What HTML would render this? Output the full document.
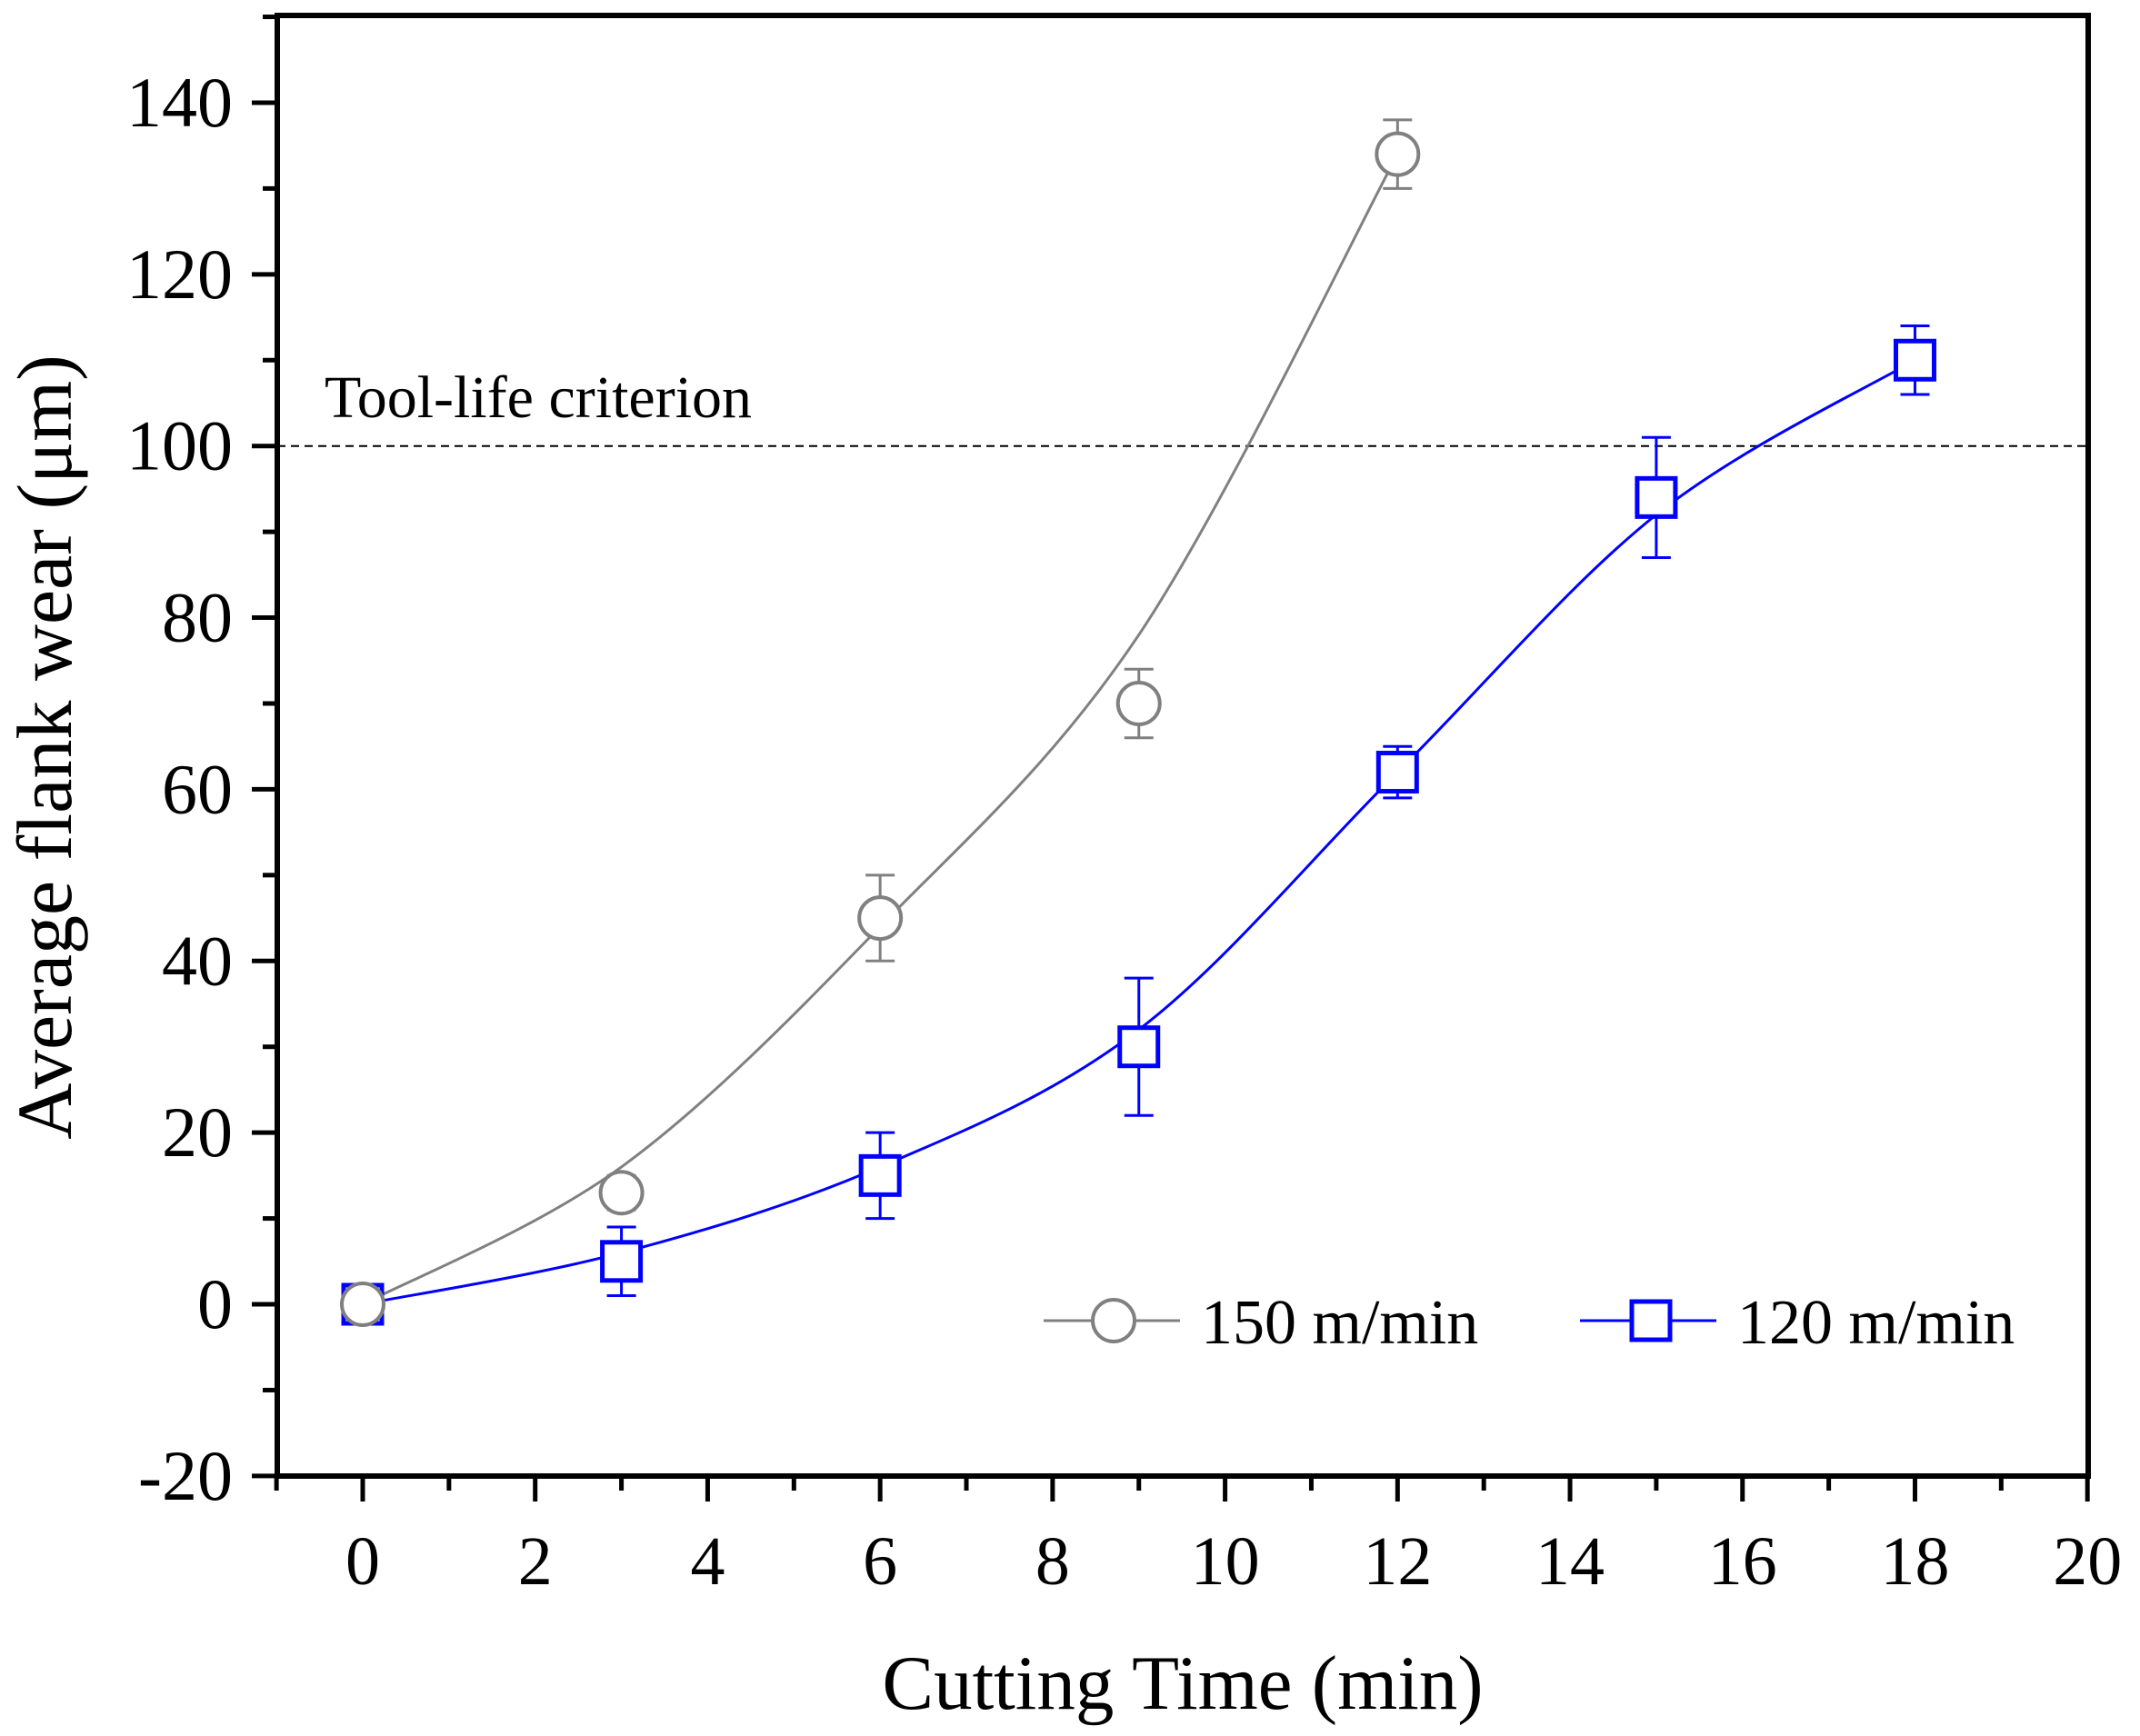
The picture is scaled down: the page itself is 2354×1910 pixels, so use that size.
<!DOCTYPE html>
<html><head><meta charset="utf-8"><style>
html,body{margin:0;padding:0;background:#fff;}
svg{display:block;font-family:"Liberation Serif",serif;}
</style></head><body>
<svg id="chart" width="2354" height="1910" viewBox="0 0 2354 1910" xmlns="http://www.w3.org/2000/svg">
<rect width="2354" height="1910" fill="#fff"/>
<g id="marks"></g>
<g id="axes"></g>
</svg>
<script>
const xTicks = [0,2,4,6,8,10,12,14,16,18,20];
const yTicks = [-20,0,20,40,60,80,100,120,140];
const t150 = [0,3,6,9,12];
const v150 = [0,13,45,70,134];
const e150 = [0,2,5,4,4];
const t120 = [0,3,6,9,12,15,18];
const v120 = [0,5,15,30,62,94,110];
const e120 = [0,4,5,8,3,7,4];
const fitX150 = [0,3,6,9,12];
const fitY150 = [0,16,44,78,134];
const fitX120 = [0,3,6,9,12,15,18];
const fitY120 = [0,6,16,32,62,92,110];
const criterion = 100;

const L=305,R=2297,T=17,B=1624;
const X=v=>399+94.86*v;
const Y=v=>1435-9.443*v;
const NS="http://www.w3.org/2000/svg";
const marks=document.getElementById('marks'), axes=document.getElementById('axes');
function mk(tag,attrs,parent){const e=document.createElementNS(NS,tag);for(const k in attrs)e.setAttribute(k,attrs[k]);parent.appendChild(e);return e;}

let cl=mk('line',{x1:L,x2:R,y1:Y(criterion),y2:Y(criterion),stroke:'#000','stroke-width':2,'stroke-dasharray':'9,6'},marks);


let ct=mk('text',{x:357,y:459,'font-size':66},marks);ct.textContent='Tool-life criterion';



function curve(xs,ys){
  const p=xs.map((x,i)=>[X(x),Y(ys[i])]);
  let d='M'+p[0][0]+','+p[0][1];
  for(let i=0;i<p.length-1;i++){
    const p0=p[i-1]||p[i],p1=p[i],p2=p[i+1],p3=p[i+2]||p[i+1];
    const c1=[p1[0]+(p2[0]-p0[0])/6,p1[1]+(p2[1]-p0[1])/6];
    const c2=[p2[0]-(p3[0]-p1[0])/6,p2[1]-(p3[1]-p1[1])/6];
    d+=`C${c1[0]},${c1[1]} ${c2[0]},${c2[1]} ${p2[0]},${p2[1]}`;
  }
  return d;
}
let f1=mk('path',{d:curve(fitX150,fitY150),fill:'none',stroke:'#808080','stroke-width':3},marks);


let f2=mk('path',{d:curve(fitX120,fitY120),fill:'none',stroke:'#0000ff','stroke-width':3},marks);



function errbar(x,v,e,col,name){
  if(!e)return;
  const g=mk('g',{stroke:col,'stroke-width':3},marks);
  
  
  const cx=X(x);
  mk('line',{x1:cx,x2:cx,y1:Y(v+e),y2:Y(v-e)},g);
  mk('line',{x1:cx-16,x2:cx+16,y1:Y(v+e),y2:Y(v+e)},g);
  mk('line',{x1:cx-16,x2:cx+16,y1:Y(v-e),y2:Y(v-e)},g);
}
t120.forEach((x,i)=>{
  errbar(x,v120[i],e120[i],'#0000ff','error-bar-120');
  const s=mk('rect',{x:X(x)-21,y:Y(v120[i])-21,width:42,height:42,fill:'#fff',stroke:'#0000ff','stroke-width':5},marks);
  
  
});
t150.forEach((x,i)=>{
  errbar(x,v150[i],e150[i],'#808080','error-bar-150');
  const c=mk('circle',{cx:X(x),cy:Y(v150[i]),r:23,fill:'#fff',stroke:'#808080','stroke-width':4},marks);
  
  
});

const lg=mk('g',{},marks);


const ly=1453;
mk('line',{x1:1148,x2:1298,y1:ly,y2:ly,stroke:'#808080','stroke-width':3},lg);
mk('circle',{cx:1225,cy:ly,r:23,fill:'#fff',stroke:'#808080','stroke-width':4},lg);
let lt1=mk('text',{x:1321,y:ly+25,'font-size':70},lg);lt1.textContent='150 m/min';


mk('line',{x1:1738,x2:1888,y1:ly,y2:ly,stroke:'#0000ff','stroke-width':3},lg);
mk('rect',{x:1795,y:ly-21,width:42,height:42,fill:'#fff',stroke:'#0000ff','stroke-width':5},lg);
let lt2=mk('text',{x:1911,y:ly+25,'font-size':70},lg);lt2.textContent='120 m/min';



let fr=mk('rect',{x:L,y:T,width:R-L,height:B-T,fill:'none',stroke:'#000','stroke-width':6},axes);


const xg=mk('g',{},axes);


for(let v=-1;v<=20;v++){
  const major=xTicks.includes(v);
  mk('line',{x1:X(v),x2:X(v),y1:B,y2:B+(major?28:16),stroke:'#000','stroke-width':5},xg);
}
xTicks.forEach(v=>{
  const t=mk('text',{x:X(v),y:1743,'font-size':76,'text-anchor':'middle'},xg);t.textContent=v;
  
  
});
const yg=mk('g',{},axes);


for(let v=-20;v<=150;v+=10){
  const major=yTicks.includes(v);
  if(Y(v)<T)continue;
  mk('line',{x1:L,x2:L-(major?28:16),y1:Y(v),y2:Y(v),stroke:'#000','stroke-width':5},yg);
}
yTicks.forEach(v=>{
  const t=mk('text',{x:256,y:Y(v)+26,'font-size':78,'text-anchor':'end'},yg);t.textContent=v;
  
  
});
let xt=mk('text',{x:1301,y:1880,'font-size':85,'text-anchor':'middle'},axes);xt.textContent='Cutting Time (min)';


let yt=mk('text',{x:0,y:0,'font-size':86,'text-anchor':'middle',transform:'translate(78,822) rotate(-90)'},axes);yt.textContent='Average flank wear (μm)';


</script>
</body></html>
